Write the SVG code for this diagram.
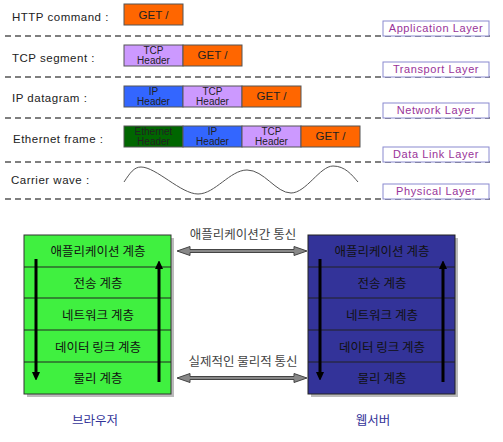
<svg xmlns="http://www.w3.org/2000/svg" width="503" height="442" viewBox="0 0 503 442">
<style>
.lbl{font-family:"Liberation Sans",Arial,sans-serif;font-size:11.5px;letter-spacing:0.5px;fill:#222;}
.cell{font-family:"Liberation Sans",Arial,sans-serif;font-size:11.5px;text-anchor:middle;fill:#222;}
.cell2{font-family:"Liberation Sans",Arial,sans-serif;font-size:10px;text-anchor:middle;fill:#222;}
.lay{font-family:"Liberation Sans",Arial,sans-serif;font-size:11px;letter-spacing:0.6px;text-anchor:middle;fill:#993399;}
.layb{fill:#fff;stroke:#8a8ad0;stroke-width:1;}
.dash{stroke:#555;stroke-width:1.5;stroke-dasharray:6,4;fill:none;}
.get{fill:#ff6600;stroke:#555;stroke-width:1;}
.tcp{fill:#cc99ff;stroke:#555;stroke-width:1;}
.ip{fill:#3366ff;stroke:#555;stroke-width:1;}
.eth{fill:#006600;stroke:#555;stroke-width:1;}
.kr{font-family:"Noto Sans CJK KR","Noto Sans",sans-serif;font-size:12.5px;text-anchor:middle;}
.sep{stroke:#222;stroke-width:1;}
.va{stroke:#000;stroke-width:3;fill:none;}
.dbl{fill:#888;stroke:#444;stroke-width:1;}
</style>
<defs>
<marker id="ah" markerWidth="8" markerHeight="8" refX="1" refY="4" orient="auto" markerUnits="userSpaceOnUse"><path d="M0,0 L9,4 L0,8 Z" fill="#000"/></marker>
</defs>

<g id="layers">
<line class="dash" x1="5" y1="36" x2="490" y2="36"/>
<line class="dash" x1="5" y1="77" x2="490" y2="77"/>
<line class="dash" x1="5" y1="118" x2="490" y2="118"/>
<line class="dash" x1="5" y1="162" x2="490" y2="162"/>
<line class="dash" x1="5" y1="199" x2="490" y2="199"/>
</g>

<g id="http">
<text class="lbl" x="12" y="21">HTTP command :</text>
<rect class="get" x="124" y="4" width="59" height="21"/>
<text class="cell" x="153.5" y="19">GET /</text>
</g>
<g id="app-layer"><rect class="layb" x="383" y="21" width="106" height="15"/><text class="lay" x="436" y="32">Application Layer</text></g>

<g id="tcp">
<text class="lbl" x="12" y="62">TCP segment :</text>
<rect class="tcp" x="124" y="45" width="59" height="21"/>
<text class="cell2" x="153.5" y="53.5">TCP</text><text class="cell2" x="153.5" y="64">Header</text>
<rect class="get" x="183" y="45" width="59" height="21"/>
<text class="cell" x="212.5" y="59">GET /</text>
</g>
<g id="transport-layer"><rect class="layb" x="383" y="62" width="106" height="15"/><text class="lay" x="436" y="73">Transport Layer</text></g>

<g id="ip">
<text class="lbl" x="12" y="102">IP datagram :</text>
<rect class="ip" x="124" y="86" width="59" height="21"/>
<text class="cell2" x="153.5" y="94.5">IP</text><text class="cell2" x="153.5" y="105">Header</text>
<rect class="tcp" x="183" y="86" width="59" height="21"/>
<text class="cell2" x="212.5" y="94.5">TCP</text><text class="cell2" x="212.5" y="105">Header</text>
<rect class="get" x="242" y="86" width="59" height="21"/>
<text class="cell" x="271.5" y="100">GET /</text>
</g>
<g id="network-layer"><rect class="layb" x="383" y="103" width="106" height="15"/><text class="lay" x="436" y="114">Network Layer</text></g>

<g id="eth">
<text class="lbl" x="13" y="143">Ethernet frame :</text>
<rect class="eth" x="124" y="126" width="59" height="21"/>
<text class="cell2" x="153.5" y="134.5">Ethernet</text><text class="cell2" x="153.5" y="145">Header</text>
<rect class="ip" x="183" y="126" width="59" height="21"/>
<text class="cell2" x="212.5" y="134.5">IP</text><text class="cell2" x="212.5" y="145">Header</text>
<rect class="tcp" x="242" y="126" width="59" height="21"/>
<text class="cell2" x="271.5" y="134.5">TCP</text><text class="cell2" x="271.5" y="145">Header</text>
<rect class="get" x="301" y="126" width="59" height="21"/>
<text class="cell" x="330.5" y="140">GET /</text>
</g>
<g id="datalink-layer"><rect class="layb" x="383" y="147" width="106" height="15"/><text class="lay" x="436" y="158">Data Link Layer</text></g>

<g id="carrier">
<text class="lbl" x="11" y="184">Carrier wave :</text>
<path d="M124,182 C130,173 134,167 141,167 C156,167 181,194 198,194 C215,194 230,170 247,170 C264,170 276,193 291,193 C306,193 320,166 333,166 C345,166 352,175 358,182" fill="none" stroke="#555" stroke-width="1"/>
</g>
<g id="physical-layer"><rect class="layb" x="383" y="184" width="106" height="15"/><text class="lay" x="436" y="195">Physical Layer</text></g>

<g id="browser">
<rect x="27" y="238" width="147" height="159" fill="#bbb"/>
<rect x="24" y="235" width="147" height="159" fill="#40f040" stroke="#333" stroke-width="1"/>
<line class="sep" x1="24" y1="267" x2="171" y2="267"/>
<line class="sep" x1="24" y1="298" x2="171" y2="298"/>
<line class="sep" x1="24" y1="330" x2="171" y2="330"/>
<line class="sep" x1="24" y1="362" x2="171" y2="362"/>
<text class="kr" x="98" y="256" fill="#111">애플리케이션 계층</text>
<text class="kr" x="98" y="288" fill="#111">전송 계층</text>
<text class="kr" x="98" y="320" fill="#111">네트워크 계층</text>
<text class="kr" x="98" y="352" fill="#111">데이터 링크 계층</text>
<text class="kr" x="98" y="383" fill="#111">물리 계층</text>
<text class="kr" x="95" y="425" fill="#333399">브라우저</text>
</g>

<g id="webserver">
<rect x="311" y="238" width="147" height="159" fill="#bbb"/>
<rect x="308" y="235" width="147" height="159" fill="#333399" stroke="#222" stroke-width="1"/>
<line class="sep" x1="308" y1="267" x2="455" y2="267"/>
<line class="sep" x1="308" y1="298" x2="455" y2="298"/>
<line class="sep" x1="308" y1="330" x2="455" y2="330"/>
<line class="sep" x1="308" y1="362" x2="455" y2="362"/>
<text class="kr" x="382" y="256" fill="#111">애플리케이션 계층</text>
<text class="kr" x="382" y="288" fill="#111">전송 계층</text>
<text class="kr" x="382" y="320" fill="#111">네트워크 계층</text>
<text class="kr" x="382" y="352" fill="#111">데이터 링크 계층</text>
<text class="kr" x="382" y="383" fill="#111">물리 계층</text>
<text class="kr" x="373" y="425" fill="#333399">웹서버</text>
</g>

<g id="connectors">
<line class="va" x1="36" y1="259" x2="36" y2="373" marker-end="url(#ah)"/>
<line class="va" x1="159" y1="382" x2="159" y2="268" marker-end="url(#ah)"/>
<line class="va" x1="320" y1="259" x2="320" y2="373" marker-end="url(#ah)"/>
<line class="va" x1="443" y1="382" x2="443" y2="268" marker-end="url(#ah)"/>
<path class="dbl" d="M177,251 L190,246.5 L190,249.5 L294,249.5 L294,246.5 L307,251 L294,255.5 L294,252.5 L190,252.5 L190,255.5 Z"/>
<path class="dbl" d="M177,378 L190,373.5 L190,376.5 L294,376.5 L294,373.5 L307,378 L294,382.5 L294,379.5 L190,379.5 L190,382.5 Z"/>
<text class="kr" x="243" y="239" fill="#444">애플리케이션간 통신</text>
<text class="kr" x="243" y="366" fill="#444">실제적인 물리적 통신</text>
</g>
</svg>
